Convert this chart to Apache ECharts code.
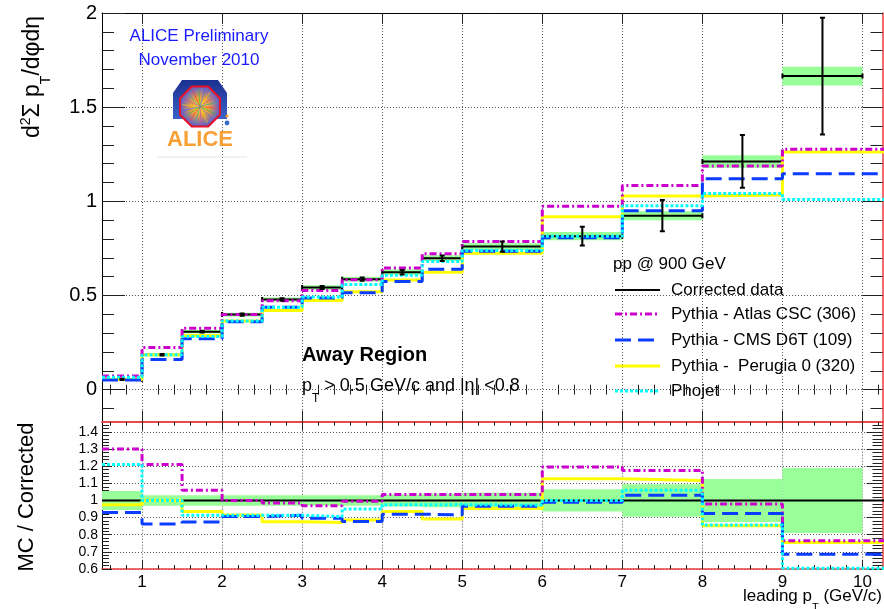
<!DOCTYPE html>
<html><head><meta charset="utf-8">
<script src="https://cdn.jsdelivr.net/npm/echarts@6/dist/echarts.min.js"></script>
<style>html,body{margin:0;padding:0;background:#fff}#c{width:884px;height:609px}</style>
</head><body><div id="c"></div>
<script>
// ---------- data ----------
const binEdges = [0.5,1,1.5,2,2.5,3,3.5,4,4.5,5,6,7,8,9,10];
const mcLastEdge = 10.5;
const dataVal  = [0.055,0.185,0.308,0.399,0.479,0.542,0.587,0.624,0.698,0.760,0.815,0.924,1.212,1.665];
const dataStat = [0.003,0.004,0.005,0.006,0.007,0.008,0.009,0.012,0.015,0.027,0.050,0.083,0.140,0.310];
const dataSys  = [0.006,0.008,0.009,0.010,0.011,0.012,0.013,0.014,0.016,0.018,0.022,0.024,0.033,0.050];
const atlasTop   = [0.072,0.224,0.326,0.399,0.472,0.527,0.584,0.646,0.722,0.787,0.974,1.084,1.188,1.276];
const cmsTop     = [0.051,0.160,0.270,0.361,0.438,0.487,0.515,0.574,0.639,0.735,0.807,0.950,1.120,1.146];
const perugiaTop = [0.054,0.185,0.288,0.365,0.420,0.473,0.520,0.583,0.623,0.724,0.918,1.028,1.034,1.262];
const phojetTop  = [0.066,0.185,0.282,0.365,0.438,0.492,0.558,0.608,0.681,0.739,0.815,0.977,1.042,1.010];
const atlasRatio   = [1.300,1.210,1.060,1.000,0.985,0.970,0.995,1.035,1.035,1.035,1.195,1.175,0.980,0.765];
const cmsRatio     = [0.930,0.863,0.875,0.906,0.914,0.896,0.878,0.920,0.916,0.967,0.990,1.030,0.924,0.686];
const perugiaRatio = [0.975,1.000,0.935,0.916,0.876,0.871,0.886,0.935,0.892,0.953,1.127,1.116,0.853,0.755];
const phojetRatio  = [1.210,1.000,0.914,0.914,0.914,0.906,0.951,0.975,0.976,0.973,1.000,1.060,0.857,0.604];
const ratioSys     = [0.055,0.030,0.030,0.030,0.030,0.030,0.030,0.035,0.040,0.045,0.065,0.095,0.125,0.190];
const ratioRef = 1;

// tick values / labels
const xTickMajor = [1,2,3,4,5,6,7,8,9,10];
const yTopMajor = [0,0.5,1,1.5,2];
const yBotMajor = [0.6,0.7,0.8,0.9,1,1.1,1.2,1.3,1.4];
const xTickMinor = []; for (let k = 3; k <= 51; k++) if (k % 5) xTickMinor.push(+(k*0.2).toFixed(2));
const yTopMinor = []; for (let k = -1; k <= 19; k++) if (k % 5) yTopMinor.push(+(k*0.1).toFixed(2));
const yBotMinor = []; for (let k = 31; k <= 72; k++) if (k % 5) yBotMinor.push(+(k*0.02).toFixed(3));

const FONT = "'Liberation Sans', Arial, Helvetica, sans-serif";
const RED = '#e83c3c';
const TICK = '#222';
const GRIDLINE = {show:true, lineStyle:{type:[1,2], color:'#555', width:1}};
const C_ATLAS = '#cc00cc', C_CMS = '#0a3cff', C_PER = '#ffff00', C_PHO = '#00ffff', C_SYS = '#99ff99';
const S_ATLAS = [7,3,2,3], S_CMS = [16,7], S_PHO = [3,2];

function xAx(grid, pos, ticks, len, line, extra) {
  return Object.assign({
    type:'value', gridIndex:grid, position:pos, min:0.5, max:10.25,
    axisLine: line ? {show:true, onZero:false, lineStyle:{color:line, width:line===RED?1.5:1}} : {show:false},
    axisTick: {show:true, inside:true, length:len, customValues:ticks, lineStyle:{color:TICK}},
    axisLabel: {show:false}, splitLine:{show:false}
  }, extra || {});
}
function yAx(grid, pos, min, max, ticks, len, line, extra) {
  return Object.assign({
    type:'value', gridIndex:grid, position:pos, min:min, max:max,
    axisLine: line ? {show:true, onZero:false, lineStyle:{color:line, width:line===RED?1.5:1}} : {show:false},
    axisTick: {show:true, inside:true, length:len, customValues:ticks, lineStyle:{color:TICK}},
    axisLabel: {show:false}, splitLine:{show:false}
  }, extra || {});
}

const xAxis = [
  xAx(0,'bottom',xTickMajor,11,RED,{splitLine:{show:true, lineStyle:GRIDLINE.lineStyle}}),
  xAx(0,'bottom',xTickMinor,5,null),
  xAx(0,'top',xTickMajor,11,'#000'),
  xAx(0,'top',xTickMinor,5,null),
  xAx(1,'bottom',xTickMajor,9,RED,{splitLine:{show:true, lineStyle:GRIDLINE.lineStyle},
     axisLabel:{show:true, customValues:xTickMajor, fontSize:17, fontFamily:FONT, color:'#000', margin:5}}),
  xAx(1,'bottom',xTickMinor,4,null),
  xAx(1,'top',xTickMajor,9,RED),
  xAx(1,'top',xTickMinor,4,null)
];
const yAxis = [
  yAx(0,'left',-0.17,2,yTopMajor,23,'#000',{splitLine:{show:true, lineStyle:GRIDLINE.lineStyle},
     axisLabel:{show:true, customValues:yTopMajor, fontSize:20, fontFamily:FONT, color:'#000', margin:5}}),
  yAx(0,'left',-0.17,2,yTopMinor,12,null),
  yAx(0,'right',-0.17,2,yTopMajor,20,RED),
  yAx(0,'right',-0.17,2,yTopMinor,12,null),
  yAx(1,'left',0.6,1.46,yBotMajor,10,'#000',{splitLine:{show:true, lineStyle:GRIDLINE.lineStyle},
     axisLabel:{show:true, customValues:yBotMajor, fontSize:14, fontFamily:FONT, color:'#000', margin:4,
       formatter:v => (Math.abs(v-1)<1e-9 ? '1' : v.toFixed(1))}}),
  yAx(1,'left',0.6,1.46,yBotMinor,7,null),
  yAx(1,'right',0.6,1.46,yBotMajor,16,RED),
  yAx(1,'right',0.6,1.46,yBotMinor,10,null)
];

function stepData(vals) {
  const d = vals.map((v,i) => [binEdges[i], v]);
  d.push([mcLastEdge, vals[vals.length-1]]);
  return d;
}
function stepSeries(name, vals, xi, yi, color, dash, z) {
  return {type:'line', name:name, xAxisIndex:xi, yAxisIndex:yi, step:'end', data:stepData(vals),
    showSymbol:false, symbol:'none', clip:true, z:z, animation:false,
    lineStyle:{color:color, width:3, type:dash || 'solid'}};
}
const binRows = (vals, errs) => vals.map((v,i) => [binEdges[i], binEdges[i+1], v, errs[i]]);

function boxRender(params, api) {
  const lo = api.value(0), hi = api.value(1), v = api.value(2), e = api.value(3);
  const a = api.coord([lo, v+e]), b = api.coord([hi, v-e]);
  return {type:'rect', shape:{x:a[0], y:a[1], width:b[0]-a[0], height:b[1]-a[1]}, style:{fill:C_SYS}};
}
const st = {stroke:'#000', lineWidth:2};
const ln = (x1,y1,x2,y2) => ({type:'line', shape:{x1,y1,x2,y2}, style:st});
function barRender(params, api) {
  const lo = api.value(0), hi = api.value(1), v = api.value(2);
  const pL = api.coord([lo, v]), pR = api.coord([hi, v]);
  return {type:'group', children:[
    ln(pL[0],pL[1],pR[0],pR[1]),
    ln(pL[0],pL[1]-2.5,pL[0],pL[1]+2.5),
    ln(pR[0],pR[1]-2.5,pR[0],pR[1]+2.5)
  ]};
}
function errRender(params, api) {
  const lo = api.value(0), hi = api.value(1), v = api.value(2), e = api.value(3);
  const mid = (lo+hi)/2;
  const pT = api.coord([mid, v+e]), pB = api.coord([mid, v-e]);
  return {type:'group', children:[
    ln(pT[0],pT[1],pB[0],pB[1]),
    ln(pT[0]-2.5,pT[1],pT[0]+2.5,pT[1]),
    ln(pB[0]-2.5,pB[1],pB[0]+2.5,pB[1])
  ]};
}
function bandRender(params, api) {
  const lo = api.value(0), hi = api.value(1), e = api.value(3);
  const a = api.coord([lo, ratioRef+e]), b = api.coord([hi, ratioRef-e]);
  return {type:'rect', shape:{x:a[0], y:a[1], width:b[0]-a[0], height:b[1]-a[1]}, style:{fill:C_SYS}};
}

const series = [
  {type:'custom', name:'sysTop', xAxisIndex:0, yAxisIndex:0, clip:true, z:1, renderItem:boxRender,
   encode:{x:[0,1], y:2}, data:binRows(dataVal, dataSys)},
  {type:'custom', name:'Corrected data', xAxisIndex:0, yAxisIndex:0, clip:true, z:1.5, renderItem:barRender,
   encode:{x:[0,1], y:2}, data:binRows(dataVal, dataStat)},
  stepSeries('Pythia -  Perugia 0 (320)', perugiaTop, 0, 0, C_PER, null, 2),
  stepSeries('Pythia - Atlas CSC (306)', atlasTop, 0, 0, C_ATLAS, S_ATLAS, 3),
  stepSeries('Pythia - CMS D6T (109)', cmsTop, 0, 0, C_CMS, S_CMS, 4),
  stepSeries('Phojet', phojetTop, 0, 0, C_PHO, S_PHO, 5),
  {type:'custom', name:'Corrected data errors', xAxisIndex:0, yAxisIndex:0, clip:true, z:6, renderItem:errRender,
   encode:{x:[0,1], y:2}, data:binRows(dataVal, dataStat)},

  {type:'custom', name:'sysRatio', xAxisIndex:4, yAxisIndex:4, clip:true, z:1, renderItem:bandRender,
   encode:{x:[0,1], y:2}, data:binRows(dataVal.map(()=>ratioRef), ratioSys)},
  {type:'line', name:'ref', xAxisIndex:4, yAxisIndex:4, data:[[binEdges[0], ratioRef],[mcLastEdge, ratioRef]],
   showSymbol:false, symbol:'none', clip:true, z:2, lineStyle:{color:'#000', width:2}},
  stepSeries('rPerugia', perugiaRatio, 4, 4, C_PER, null, 3),
  stepSeries('rAtlas', atlasRatio, 4, 4, C_ATLAS, S_ATLAS, 4),
  stepSeries('rCms', cmsRatio, 4, 4, C_CMS, S_CMS, 5),
  stepSeries('rPhojet', phojetRatio, 4, 4, C_PHO, S_PHO, 6)
];

// ---------- decorations: texts, legend, logo ----------
const T = (x, y, text, size, opts) => Object.assign({type:'text', x:x, y:y, z:50,
  style:Object.assign({text:text, font:size+'px '+FONT, fill:'#000', align:'left', verticalAlign:'middle'}, (opts||{}).style||{})},
  (opts||{}).el||{});

const legendRows = [
  {label:'Corrected data', color:'#000', w:2, dash:null, y:290},
  {label:'Pythia - Atlas CSC (306)', color:C_ATLAS, w:3, dash:S_ATLAS, y:314},
  {label:'Pythia - CMS D6T (109)', color:C_CMS, w:3, dash:S_CMS, y:340},
  {label:'Pythia -  Perugia 0 (320)', color:C_PER, w:3, dash:null, y:366},
  {label:'Phojet', color:C_PHO, w:3, dash:S_PHO, y:391}
];
const graphic = [];
graphic.push(T(613, 264, 'pp @ 900 GeV', 17));
legendRows.forEach(r => {
  graphic.push({type:'line', z:50, shape:{x1:615, y1:r.y, x2:660, y2:r.y},
    style:{stroke:r.color, lineWidth:r.w, lineDash:r.dash || null}});
  graphic.push(T(671, r.y, r.label, 17));
});
graphic.push(T(302, 355, 'Away Region', 20, {style:{font:'bold 20px '+FONT}}));
graphic.push({type:'text', x:302, y:386, z:50, style:{
  text:'{a|p}{s|T}{a| > 0.5 GeV/c and |η| <0.8}', verticalAlign:'middle', align:'left',
  rich:{a:{font:'18px '+FONT, fill:'#000', lineHeight:22, verticalAlign:'middle'},
        s:{font:'12px '+FONT, fill:'#000', verticalAlign:'bottom', lineHeight:22, padding:[0,0,-8,0]}}}});
graphic.push(T(199, 36, 'ALICE Preliminary', 17, {style:{fill:'#1a1aff', align:'center'}}));
graphic.push(T(199, 60, 'November 2010', 17, {style:{fill:'#1a1aff', align:'center'}}));
// y axis titles
graphic.push({type:'text', x:33, y:77, rotation:Math.PI/2, z:50, style:{
  text:'{a|d}{p|2}{a|Σ p}{s|T}{a|/dφdη}', align:'center', verticalAlign:'middle',
  rich:{a:{font:'23px '+FONT, fill:'#000', lineHeight:28, verticalAlign:'middle'},
        p:{font:'14px '+FONT, fill:'#000', verticalAlign:'top', lineHeight:28, padding:[0,0,0,0]},
        s:{font:'14px '+FONT, fill:'#000', verticalAlign:'bottom', lineHeight:28, padding:[0,0,-6,0]}}}});
graphic.push({type:'text', x:27, y:497, rotation:Math.PI/2, z:50, style:{
  text:'MC / Corrected', font:'22px '+FONT, fill:'#000', align:'center', verticalAlign:'middle'}});
graphic.push({type:'text', x:882, y:596, z:50, style:{
  text:'{a|leading p}{s|T}{a| (GeV/c)}', align:'right', verticalAlign:'middle',
  rich:{a:{font:'17px '+FONT, fill:'#000', lineHeight:20, verticalAlign:'middle'},
        s:{font:'11px '+FONT, fill:'#000', verticalAlign:'bottom', lineHeight:20, padding:[0,0,-7,0]}}}});
// ALICE logo
graphic.push({type:'polygon', z:40, shape:{points:[[182,80],[218,80],[227,93],[227,119],[173,119],[173,93]]},
  style:{fill:new echarts.graphic.LinearGradient(0,0,0,1,[{offset:0,color:'#1b2f8f'},{offset:1,color:'#3a62c8'}])}});
const oct = [];
for (let k = 0; k < 8; k++) { const a = Math.PI/8 + k*Math.PI/4; oct.push([200 + 21.6*Math.cos(a), 106.5 + 21.6*Math.sin(a)]); }
graphic.push({type:'polygon', z:41, shape:{points:oct},
  style:{fill:new echarts.graphic.RadialGradient(0.5,0.5,0.6,[{offset:0,color:'#ffe640'},{offset:0.35,color:'#e8a040'},{offset:0.7,color:'#7a6ab8'},{offset:1,color:'#3050b0'}]),
         stroke:'#e8102a', lineWidth:2}});
const rayCols = ['#ff3030','#30c030','#3060ff','#ffd000','#c040c0','#20b0b0'];
for (let k = 0; k < 18; k++) {
  const a = k*Math.PI/9 + 0.1;
  graphic.push({type:'line', z:42, shape:{x1:200, y1:106.5, x2:200+18*Math.cos(a), y2:106.5+18*Math.sin(a)},
    style:{stroke:rayCols[k%6], lineWidth:0.8, opacity:0.8}});
}
graphic.push({type:'circle', z:42, shape:{cx:227, cy:116, r:1.6}, style:{fill:'#f39a2c'}});
graphic.push({type:'circle', z:42, shape:{cx:227, cy:123, r:2.4}, style:{fill:'#3a6ac8'}});
graphic.push(T(200, 140, 'ALICE', 22, {style:{font:'bold 22px '+FONT, fill:'#f7a035', align:'center'}}));
graphic.push({type:'line', z:40, shape:{x1:157, y1:157, x2:247, y2:157}, style:{stroke:'#e4e4e4', lineWidth:1}});

const chart = echarts.init(document.getElementById('c'), null, {renderer:'canvas'});
chart.setOption({
  animation:false,
  backgroundColor:'#fff',
  grid:[
    {left:102, right:1.5, top:13, bottom:187.3, containLabel:false},
    {left:102, right:1.5, top:421.7, bottom:40, containLabel:false}
  ],
  xAxis:xAxis, yAxis:yAxis, series:series, graphic:graphic
});
</script></body></html>
